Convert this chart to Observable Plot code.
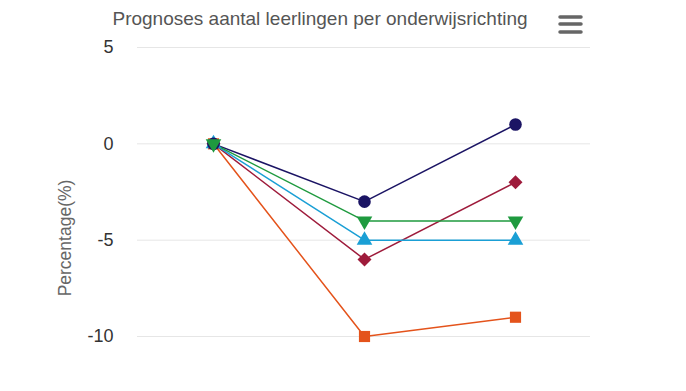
<!DOCTYPE html>
<html>
<head>
<meta charset="utf-8">
<script src="https://cdn.jsdelivr.net/npm/d3@7"></script>
<script src="https://cdn.jsdelivr.net/npm/@observablehq/plot@0.6"></script>
<style>
  html, body { margin: 0; padding: 0; background: #ffffff; }
  #chart { width: 686px; height: 391px; }
  svg { font-family: "Liberation Sans", Arial, sans-serif; }
</style>
</head>
<body>
<div id="chart"></div>
<script>
const title = "Prognoses aantal leerlingen per onderwijsrichting";
const yLabel = "Percentage(%)";
const periods = ["t0", "t1", "t2"];
const yTicks = [5, 0, -5, -10];
const seriesNames = ["BuSO", "BSO", "TSO", "ASO", "KSO"];
const seriesColors = ["#e4531b", "#9e1b3b", "#1a9fd5", "#1b1464", "#1f9a3f"];
const seriesSymbols = ["square", "diamond2", "triangle", "circle", "triangle"];
const seriesRotate = [0, 0, 0, 0, 180];
const seriesValues = [
  [0, -10, -9],
  [0, -6, -2],
  [0, -5, -5],
  [0, -3, 1],
  [0, -4, -4]
];

const rows = [];
seriesNames.forEach((s, i) => {
  periods.forEach((p, j) => {
    rows.push({series: s, period: p, value: seriesValues[i][j], idx: i});
  });
});

const marks = [
  Plot.gridY(yTicks, {stroke: "#e6e6e6", strokeOpacity: 1, strokeWidth: 1}),
  Plot.axisY(yTicks, {tickSize: 0, tickPadding: 24, fontSize: 18, fill: "#333333", label: null,
    tickFormat: d => String(d)}),
];
seriesNames.forEach((s, i) => {
  const d = rows.filter(r => r.series === s);
  marks.push(Plot.line(d, {x: "period", y: "value", stroke: seriesColors[i], strokeWidth: 1.5}));
});
seriesNames.forEach((s, i) => {
  const d = rows.filter(r => r.series === s);
  marks.push(Plot.dot(d, {x: "period", y: "value", fill: seriesColors[i], stroke: "none",
    symbol: () => seriesSymbols[i], rotate: seriesRotate[i],
    r: seriesSymbols[i] === "circle" ? 6.3 : (seriesSymbols[i] === "triangle" ? 5.8 : 6.3)}));
});

const chart = Plot.plot({
  width: 686,
  height: 391,
  marginLeft: 137,
  marginRight: 96,
  marginTop: 47,
  marginBottom: 55,
  style: {background: "#ffffff", overflow: "visible"},
  x: {type: "point", domain: periods, padding: 0.5, axis: null},
  y: {domain: [-10, 5], axis: null},
  marks
});

const svg = d3.select(chart);
svg.append("text")
  .attr("x", 320).attr("y", 25)
  .attr("text-anchor", "middle")
  .attr("font-size", 19)
  .attr("fill", "#555555")
  .text(title);
svg.append("text")
  .attr("transform", "translate(71,238) rotate(-90)")
  .attr("text-anchor", "middle")
  .attr("font-size", 17.5)
  .attr("fill", "#666666")
  .text(yLabel);
const menu = svg.append("g").attr("stroke", "#666666").attr("stroke-width", 3.5).attr("stroke-linecap", "round");
[17, 24, 32].forEach(y => menu.append("line").attr("x1", 560).attr("x2", 581).attr("y1", y).attr("y2", y));

document.getElementById("chart").appendChild(chart);
</script>
</body>
</html>
